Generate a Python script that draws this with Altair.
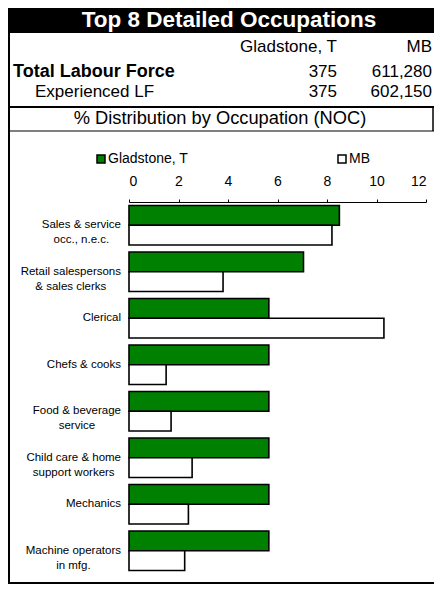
import altair as alt
import pandas as pd

FONT = "Liberation Sans"

# ---- data ----
title = "Top 8 Detailed Occupations"
series = ["Gladstone, T", "MB"]
row_labels = ["Total Labour Force", "Experienced LF"]
total_lf = [375, 611280]
experienced_lf = [375, 602150]
subtitle = "% Distribution by Occupation (NOC)"

categories = [
    "Sales & service\nocc., n.e.c.",
    "Retail salespersons\n& sales clerks",
    "Clerical",
    "Chefs & cooks",
    "Food & beverage\nservice",
    "Child care & home\nsupport workers",
    "Mechanics",
    "Machine operators\nin mfg.",
]
gladstone = [8.5, 7.05, 5.65, 5.65, 5.65, 5.65, 5.65, 5.65]
mb = [8.2, 3.8, 10.3, 1.5, 1.7, 2.55, 2.4, 2.25]
x_ticks = [0, 2, 4, 6, 8, 10, 12]

# Arial / Liberation Sans advance widths (1/1000 em) to centre multi-line labels
ARIAL = {" ": 278, "&": 667, ",": 278, ".": 278, "a": 556, "b": 556, "c": 500,
         "d": 556, "e": 556, "f": 278, "g": 556, "h": 556, "i": 222, "j": 222,
         "k": 500, "l": 222, "m": 833, "n": 556, "o": 556, "p": 556, "q": 556,
         "r": 333, "s": 500, "t": 278, "u": 556, "v": 500, "w": 722, "x": 500,
         "y": 500, "z": 500, "C": 722, "F": 611, "M": 833, "R": 722, "S": 667}
LABEL_FS = 11.5


def text_width(s, fs):
    return sum(ARIAL.get(ch, 556) for ch in s) * fs / 1000.0


rows = []
for c, g, m in zip(categories, gladstone, mb):
    rows.append({"category": c, "series": series[0], "value": g})
    rows.append({"category": c, "series": series[1], "value": m})
df = pd.DataFrame(rows)

lab_df = pd.DataFrame({
    "category": categories,
    "halfw": [max(text_width(l, LABEL_FS) for l in c.split("\n")) / 2 for c in categories],
})

one = pd.DataFrame({"k": [0]})

W, H = 426, 576
AX_X = 121      # pixel position of the value axis origin
Y0, Y1 = 194, 566
BOTTOM = 575


def rule(x, x2, y, y2, sw):
    return alt.Chart(one).mark_rule(color="black", strokeWidth=sw).encode(
        x=alt.value(x), x2=alt.value(x2), y=alt.value(y), y2=alt.value(y2)
    )


def txt(t, x, y, fs, align="left", weight="normal", color="black"):
    return alt.Chart(pd.DataFrame({"t": [t]})).mark_text(
        font=FONT, fontSize=fs, fontWeight=weight, color=color, align=align,
        baseline="alphabetic"
    ).encode(text="t:N", x=alt.value(x), y=alt.value(y))


def val(v, x, y):
    return alt.Chart(pd.DataFrame({"v": [v]})).mark_text(
        font=FONT, fontSize=17, align="right", baseline="alphabetic", color="black"
    ).encode(text=alt.Text("v:Q", format=","), x=alt.value(x), y=alt.value(y))


title_bar = alt.Chart(one).mark_rect(color="black").encode(
    x=alt.value(0), x2=alt.value(W), y=alt.value(0), y2=alt.value(25)
)

header = [
    title_bar,
    txt(title, 221, 19, 22.5, align="center", weight="bold", color="white"),
    txt(series[0], 329, 44, 17, align="right"),
    txt(series[1], 424, 44, 17, align="right"),
    txt(row_labels[0], 5, 69, 18, weight="bold"),
    txt(row_labels[1], 27, 89, 17),
    val(total_lf[0], 329, 69), val(total_lf[1], 424, 69),
    val(experienced_lf[0], 329, 89), val(experienced_lf[1], 424, 89),
    txt(subtitle, 212, 116, 18.3, align="center"),
]

lines = [
    rule(1, 1, 0, BOTTOM, 2),
    rule(0, W, 99, 99, 2),
    rule(0, W, 123, 123, 1.2),
    rule(425, 425, 99, 123, 1.5),
    rule(0, W, BOTTOM, BOTTOM, 2),
]

y_enc = alt.Y(
    "category:N",
    sort=categories,
    scale=alt.Scale(range=[Y0, Y1], paddingInner=0, paddingOuter=0),
    axis=alt.Axis(
        orient="left", offset=-AX_X, title=None, tickBand="extent",
        tickSize=4, tickColor="black", domainColor="black", labels=False,
    ),
)

bars = alt.Chart(df).mark_bar(stroke="black", strokeWidth=1.6).encode(
    x=alt.X(
        "value:Q",
        scale=alt.Scale(domain=[0, 12], range=[AX_X, 418], nice=False),
        axis=alt.Axis(
            orient="top", offset=-Y0, values=x_ticks, title=None, grid=False,
            tickSize=3, tickColor="black", domainColor="black",
            labelFont=FONT, labelFontSize=14, labelColor="black", labelPadding=11,
        ),
    ),
    y=y_enc,
    yOffset=alt.YOffset(
        "series:N", sort=series, scale=alt.Scale(paddingInner=0, paddingOuter=0.18)
    ),
    color=alt.Color(
        "series:N",
        sort=series,
        scale=alt.Scale(domain=series, range=["#008000", "#ffffff"]),
        legend=alt.Legend(
            orient="none", legendX=86, legendY=144, direction="horizontal",
            title=None, symbolType="square", symbolSize=64,
            symbolStrokeColor="black", symbolStrokeWidth=1.5,
            labelFont=FONT, labelFontSize=14, labelColor="black",
            labelOffset=0, columnPadding=146, padding=0,
        ),
    ),
)

cat_labels = alt.Chart(lab_df).transform_calculate(
    px=f"{AX_X - 8} - datum.halfw"
).mark_text(
    font=FONT, fontSize=LABEL_FS, lineBreak="\n", lineHeight=15,
    align="center", baseline="middle", color="black"
).encode(
    x=alt.X("px:Q", scale=None, axis=None),
    y=alt.Y("category:N", sort=categories, axis=None),
    text="category:N",
)

chart = alt.layer(
    *header, *lines, bars, cat_labels,
).resolve_scale(x="independent").properties(
    width=W, height=H, autosize=alt.AutoSizeParams(type="none"), padding=0
).configure_view(stroke=None)

chart.save("out.html", embed_options={"renderer": "svg", "actions": False})
